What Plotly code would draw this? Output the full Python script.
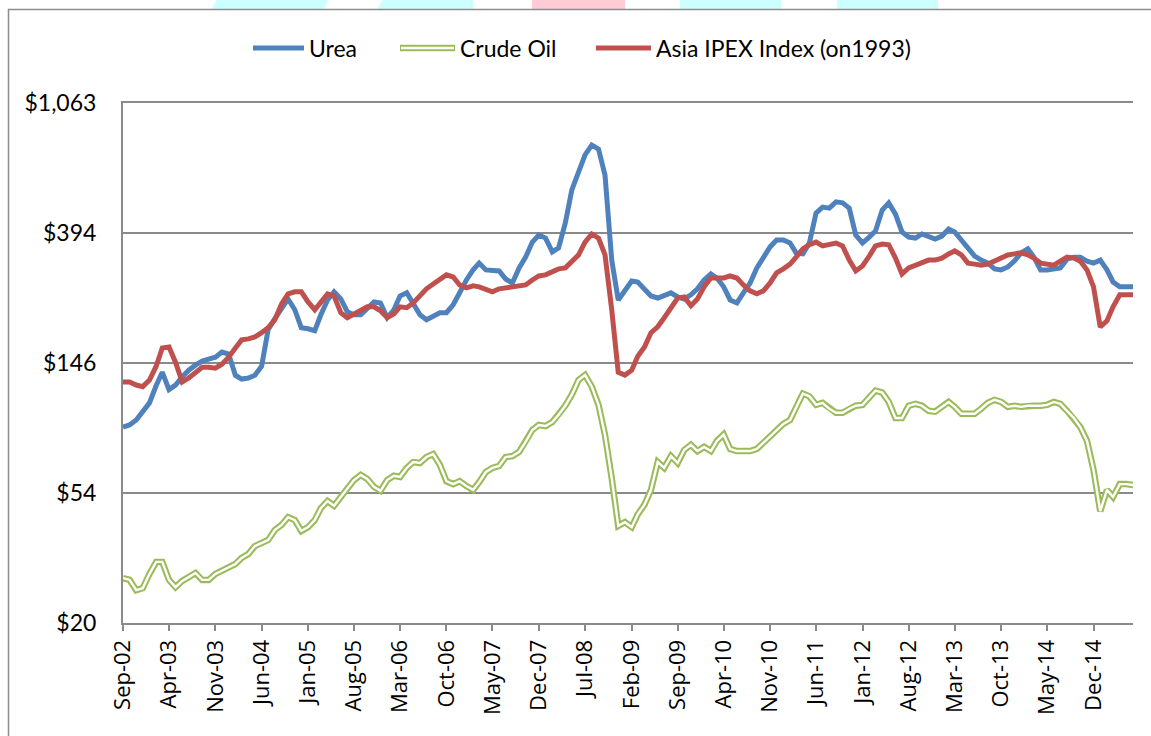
import math
import pandas as pd
import plotly.graph_objects as go

# ---------------- data (monthly, Sep-2002 .. Jun-2015) ----------------
months = pd.date_range("2002-09-01", periods=154, freq="MS")

urea = [
    89.4, 90.8, 94.3, 100.5, 107.5, 122.7, 135.9, 119, 123.2, 131,
    138, 143.4, 147.9, 150.1, 152.4, 158.6, 156.2, 132.8, 129, 130,
    132.8, 142.3, 188, 204.6, 220.7, 237.8, 219, 190.9, 189.4, 186.6,
    210.8, 236, 251.1, 237.8, 215.7, 210.8, 210.8, 222.4, 232.4, 230.7,
    206.1, 219, 243.3, 249.3, 230.7, 210.8, 203, 207.7, 214.1, 214.1,
    227.5, 249.3, 275, 297, 312.8, 297, 294.7, 294.7, 277.1, 268.8,
    301.6, 327.4, 367.3, 387.5, 378.7, 340.7, 351.3, 425.2, 547, 632,
    715, 771, 748, 613, 320, 236, 255, 272.9, 270.8, 255,
    243.3, 239.6, 243.3, 249.3, 241.5, 237.8, 245.4, 257, 275, 288,
    279.2, 260.9, 236, 230.7, 249.3, 268.8, 301.6, 327.4, 354, 373,
    373, 364.6, 338.2, 335.6, 364.6, 458.5, 479.8, 476.2, 499.3, 495.6,
    476.2, 387.5, 364.6, 381.6, 399.9, 469, 495.6, 454.9, 396.9, 381.6,
    378.7, 390.9, 381.6, 375.9, 384.6, 406.1, 396.9, 373, 354, 329.9,
    320, 312.8, 299.3, 297, 303.8, 317.6, 338.2, 348.7, 327.4, 297,
    297, 299.3, 301.6, 322.5, 327.4, 327.4, 317.6, 312.8, 320, 297,
    270.8, 260.9, 260.9, 260.9,
]

crude_oil = [
    28.2, 27.8, 25.7, 26.1, 29.1, 31.9, 31.9, 27.8, 26.3, 27.6,
    28.4, 29.3, 27.8, 27.8, 29.1, 29.8, 30.7, 31.4, 32.9, 33.9,
    36.0, 36.9, 37.7, 40.7, 42.3, 44.9, 43.9, 40.4, 41.6, 43.9,
    48.1, 50.8, 49.0, 52.4, 55.7, 59.6, 62.0, 60.1, 56.6, 54.9,
    59.6, 61.6, 61.1, 65.4, 68.4, 67.9, 71.1, 72.7, 66.9, 59.1,
    57.8, 59.1, 57.0, 55.3, 58.7, 63.4, 65.4, 66.4, 71.1, 71.6,
    73.9, 79.8, 87.4, 90.8, 90.1, 92.9, 98.2, 105.2, 114.5, 128,
    133, 121.7, 105.9, 84.1, 60.5, 42.0, 43.2, 41.6, 45.9, 49.4,
    55.3, 68.4, 65.4, 71.6, 67.9, 75.0, 78.0, 74.4, 76.8, 74.4,
    80.4, 84.4, 75.6, 74.4, 74.4, 74.4, 75.6, 79.2, 83.5, 87.4,
    91.5, 94.3, 104.3, 115.4, 113.0, 105.9, 107.5, 102.8, 99.7, 99.7,
    102.8, 105.2, 105.9, 111.7, 118.1, 116.3, 108.3, 95.8, 95.8, 105.2,
    106.7, 105.2, 101.2, 100.5, 104.3, 108.3, 104.3, 98.9, 98.9, 98.9,
    102.8, 107.5, 110, 108.3, 104.3, 105.2, 104.3, 105.2, 105.2, 105.2,
    105.9, 108.3, 106.7, 101.2, 95.8, 89.4, 80.4, 64.4, 47.0, 55.3,
    52.4, 57.8, 57.8, 57.4,
]

asia_ipex = [
    126.1, 126.1, 123.2, 121.7, 128, 142.3, 163.5, 164.7, 146.7, 126.1,
    130, 135.9, 141.2, 141.2, 140.1, 144.5, 152.4, 163.5, 174, 175.3,
    178, 183.8, 190.9, 203, 228.9, 247.3, 251.1, 251.1, 232.4, 219,
    230.7, 247.3, 243.3, 214.1, 206.1, 212.5, 219, 224, 224, 217.3,
    206.1, 212.5, 224, 222.4, 230.7, 245.4, 257, 266.7, 277.1, 285.9,
    281.3, 264.7, 258.9, 262.9, 260.9, 255, 251.1, 257, 258.9, 258.9,
    260.9, 264.7, 275, 283.5, 285.9, 292.5, 299.3, 301.6, 315.1, 333,
    367.3, 390.9, 378.7, 333, 219, 135.9, 133, 138, 153.6, 164.7,
    183.8, 192.3, 206.1, 220.7, 239.6, 241.5, 225.8, 237.8, 260.9, 279.2,
    279.2, 279.2, 283.5, 279.2, 264.7, 253, 247.3, 253, 268.8, 290.2,
    299.3, 310.4, 327.4, 348.7, 360, 367.3, 356.7, 362, 364.6, 356.7,
    320, 294.7, 306.2, 329.9, 356.7, 362, 360, 325, 288, 301.6,
    308, 315.1, 320, 320, 325, 335.6, 343.4, 333, 312.8, 310.4,
    308, 310.4, 317.6, 327.4, 333, 335.6, 338.2, 333, 325, 312.8,
    310.4, 308, 317.6, 327.4, 325, 317.6, 297, 260.9, 191.9, 201.4,
    224, 245.4, 245.4, 245.4,
]

series_names = ["Urea", "Crude Oil", "Asia IPEX Index (on1993)"]

y_tick_values = [20, 54, 146, 394, 1063]
y_tick_labels = ["$20", "$54", "$146", "$394", "$1,063"]

x_tick_values = list(months[::7])
x_tick_labels = [d.strftime("%b-%y") for d in x_tick_values]

# ---------------- styling ----------------
BLUE = "#4F81BD"
GREEN = "#9BBB59"
RED = "#C0504D"
GRID = "#8A8A8A"

W, H = 1151, 736
PLOT_L, PLOT_T, PLOT_R, PLOT_B = 123, 103, 1133, 623   # in screenshot pixels
L, T, R, B = PLOT_L, PLOT_T, W - PLOT_R, H - PLOT_B
PW, PH = PLOT_R - PLOT_L, PLOT_B - PLOT_T


def fx(x):
    return (x - PLOT_L) / PW


def fy(y):
    return (PLOT_B - y) / PH


fig = go.Figure()
fig.add_trace(go.Scatter(x=months, y=urea, mode="lines", name=series_names[0],
                         line=dict(color=BLUE, width=5), showlegend=False))
fig.add_trace(go.Scatter(x=months, y=crude_oil, mode="lines", name=series_names[1],
                         line=dict(color=GREEN, width=6.5), showlegend=False))
fig.add_trace(go.Scatter(x=months, y=crude_oil, mode="lines", name=series_names[1],
                         line=dict(color="white", width=2.4), showlegend=False,
                         hoverinfo="skip"))
fig.add_trace(go.Scatter(x=months, y=asia_ipex, mode="lines", name=series_names[2],
                         line=dict(color=RED, width=5), showlegend=False))

shapes = []
annotations = []

# manual legend
legend_y = fy(48)
legend_items = [
    (253, 304, BLUE, False, 307),
    (400, 455, GREEN, True, 458),
    (596, 651, RED, False, 654),
]
for (x0, x1, col, dbl, tx), name in zip(legend_items, series_names):
    shapes.append(dict(type="line", xref="paper", yref="paper", x0=fx(x0), x1=fx(x1),
                       y0=legend_y, y1=legend_y, line=dict(color=col, width=6.5 if dbl else 5)))
    if dbl:
        shapes.append(dict(type="line", xref="paper", yref="paper", x0=fx(x0 + 1), x1=fx(x1 - 1),
                           y0=legend_y, y1=legend_y, line=dict(color="white", width=2.4)))
    annotations.append(dict(text=name, xref="paper", yref="paper", x=fx(tx), y=legend_y,
                            xanchor="left", yanchor="middle", showarrow=False,
                            font=dict(family="Lato", size=23, color="black")))


# decorative top band (cropped banner above the chart)
def poly(pts):
    return "M " + " L ".join(f"{fx(a)},{fy(b)}" for a, b in pts) + " Z"


band = [
    ([(219, -5), (331, -5), (324, 9), (212, 9)], "#CCFFFF"),
    ([(386, -5), (473, -5), (473, 9), (377, 9)], "#CCFFFF"),
    ([(532, -5), (625, -5), (625, 9), (532, 9)], "#FFCCD5"),
    ([(680, -5), (781, -5), (781, 9), (680, 9)], "#CCFFFF"),
    ([(837, -5), (938, -5), (938, 9), (837, 9)], "#CCFFFF"),
]
for pts, col in band:
    shapes.append(dict(type="path", xref="paper", yref="paper", path=poly(pts),
                       fillcolor=col, line=dict(width=0), layer="below"))

# outer chart border
shapes.append(dict(type="rect", xref="paper", yref="paper", x0=fx(8.5), x1=fx(1170),
                   y0=fy(9.5), y1=fy(760), line=dict(color="#8C8C8C", width=1.5),
                   fillcolor="rgba(0,0,0,0)"))

fig.update_layout(
    width=W, height=H,
    margin=dict(l=L, r=R, t=T, b=B),
    paper_bgcolor="white", plot_bgcolor="white",
    showlegend=False,
    shapes=shapes,
    annotations=annotations,
    xaxis=dict(
        type="date",
        range=[months[0], months[-1]],
        tickvals=x_tick_values, ticktext=x_tick_labels,
        tickangle=-90,
        ticks="outside", ticklen=6, tickwidth=2, tickcolor=GRID,
        showline=True, linecolor=GRID, linewidth=2, mirror=True,
        showgrid=False,
        tickfont=dict(family="Open Sans", size=22, color="black"),
    ),
    yaxis=dict(
        type="log",
        range=[math.log10(y_tick_values[0]), math.log10(y_tick_values[-1])],
        tickvals=y_tick_values, ticktext=y_tick_labels,
        showgrid=True, gridcolor=GRID, gridwidth=2,
        showline=True, linecolor=GRID, linewidth=2,
        ticks="", ticklabelstandoff=20,
        tickfont=dict(family="Lato", size=23, color="black"),
        zeroline=False,
    ),
)

fig.write_html("out.html",
               config={"displayModeBar": False},
               post_script="document.body.style.margin='0';document.body.style.overflow='hidden';")
